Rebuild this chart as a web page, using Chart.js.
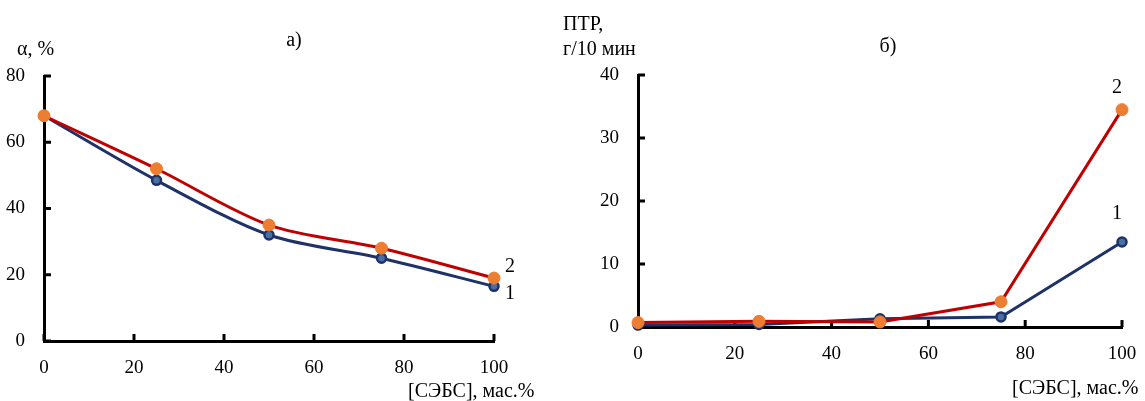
<!DOCTYPE html>
<html>
<head>
<meta charset="utf-8">
<script src="https://cdn.jsdelivr.net/npm/chart.js@4/dist/chart.umd.min.js"></script>
<style>
  body { margin: 0; background: #fff; }
  #page { position: relative; width: 1145px; height: 401px; overflow: hidden;
          font-family: "Liberation Serif", "Times New Roman", serif; font-size: 20px; color: #000; }
  .box { position: absolute; top: 0; height: 401px; }
  .lbl { position: absolute; white-space: nowrap; line-height: 1; }
  .c { transform: translate(-50%, -50%); }
  .l { transform: translate(0, -50%); }
</style>
</head>
<body>
<div id="page">
  <div class="box" style="left:0;width:572px"><canvas id="alpha"></canvas></div>
  <div class="box" style="left:572px;width:573px"><canvas id="ptr"></canvas></div>

  <div class="lbl c" style="left:294px;top:39px">а)</div>
  <div class="lbl c" style="left:888px;top:45px">б)</div>
  <div class="lbl l" style="left:17px;top:48px">α, %</div>
  <div class="lbl l" style="left:563px;top:23px">ПТР,</div>
  <div class="lbl l" style="left:563px;top:48px">г/10 мин</div>
  <div class="lbl l" style="left:408px;top:390px">[СЭБС], мас.%</div>
  <div class="lbl l" style="left:1012px;top:387px">[СЭБС], мас.%</div>
  <div class="lbl c" style="left:510px;top:265px">2</div>
  <div class="lbl c" style="left:510px;top:292px">1</div>
  <div class="lbl c" style="left:1117px;top:86px">2</div>
  <div class="lbl c" style="left:1117px;top:212px">1</div>
</div>
<script>
// СЭБС content, mass %
const sebsContent = [0, 25, 50, 75, 100];
// chart a) alpha, %
const alphaSeries1 = [68, 48.5, 32, 25, 16.5];
const alphaSeries2 = [68, 52, 35, 28, 19];
// chart б) ПТР, g/10 min
const ptrSeries1 = [0.3, 0.4, 1.3, 1.6, 13.5];
const ptrSeries2 = [0.7, 0.9, 0.8, 4, 34.5];

const redLine = '#C00000';
const navyLine = '#1F3267';
const orangeDot = '#ED7D31';
const blueDot = '#4A6FA2';

Chart.defaults.font.family = '"Liberation Serif", "Times New Roman", serif';
Chart.defaults.font.size = 19;
Chart.defaults.color = '#000';

// tick marks drawn inward, like the original
const innerTicks = {
  id: 'innerTicks',
  beforeDatasetsDraw(chart) {
    const {ctx, scales: {x, y}} = chart;
    ctx.save();
    ctx.strokeStyle = '#000';
    ctx.lineWidth = 3;
    ctx.beginPath();
    x.ticks.forEach((t, i) => {
      const px = x.getPixelForTick(i);
      ctx.moveTo(px, y.bottom);
      ctx.lineTo(px, y.bottom - 7);
    });
    y.ticks.forEach((t, i) => {
      const py = y.getPixelForTick(i);
      ctx.moveTo(x.left, py);
      ctx.lineTo(x.left + 7, py);
    });
    ctx.stroke();
    ctx.restore();
  }
};

function toPoints(values) {
  return sebsContent.map((v, i) => ({x: v, y: values[i]}));
}

function makeChart(canvasId, s1, s2, yMax, yStep, tension, yWidth, pad) {
  return new Chart(document.getElementById(canvasId), {
    type: 'line',
    data: {
      datasets: [{
        label: '1',
        data: toPoints(s1),
        borderColor: navyLine,
        borderWidth: 3,
        pointBackgroundColor: blueDot,
        pointBorderColor: navyLine,
        pointBorderWidth: 2.5,
        pointRadius: 4.5,
        tension: tension,
        clip: false,
        order: 1
      }, {
        label: '2',
        data: toPoints(s2),
        borderColor: redLine,
        borderWidth: 3,
        pointBackgroundColor: orangeDot,
        pointBorderColor: orangeDot,
        pointBorderWidth: 1,
        pointRadius: 6,
        tension: tension,
        clip: false,
        order: 0
      }]
    },
    options: {
      responsive: true,
      maintainAspectRatio: false,
      animation: false,
      layout: { padding: pad },
      plugins: { legend: { display: false }, tooltip: { enabled: false } },
      scales: {
        x: {
          type: 'linear',
          min: 0, max: 100,
          ticks: { stepSize: 20, padding: 8 },
          grid: { display: false },
          border: { color: '#000', width: 3 },
          afterFit: (s) => { s.height = 40; }
        },
        y: {
          min: 0, max: yMax,
          ticks: { stepSize: yStep, padding: 11 },
          grid: { display: false },
          border: { color: '#000', width: 3 },
          afterFit: (s) => { s.width = yWidth; }
        }
      }
    },
    plugins: [innerTicks]
  });
}

makeChart('alpha', alphaSeries1, alphaSeries2, 80, 20, 0.3, 44,
  {left: 0, right: 78, top: 76, bottom: 20});
makeChart('ptr', ptrSeries1, ptrSeries2, 40, 10, 0, 66,
  {left: 0, right: 23, top: 75, bottom: 34});
</script>
</body>
</html>
